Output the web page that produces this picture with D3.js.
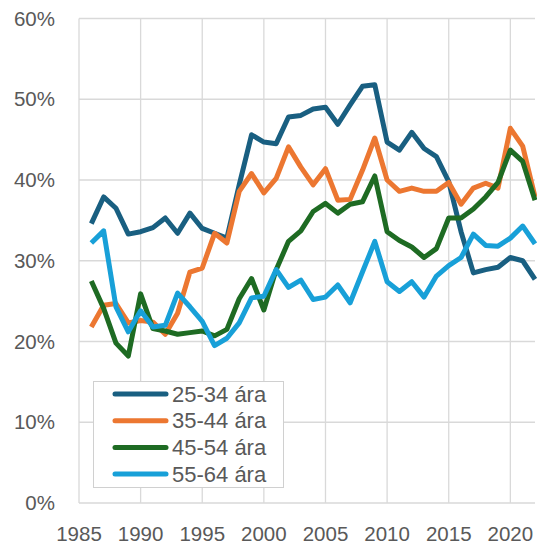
<!DOCTYPE html>
<html>
<head>
<meta charset="utf-8">
<script src="https://cdn.jsdelivr.net/npm/d3@7"></script>
<style>
  body { margin: 0; background: #fff; }
  svg text { font-family: "Liberation Sans", Arial, sans-serif; fill: #595959; }
</style>
</head>
<body>
<svg width="537" height="544"></svg>
<script>
const years = d3.range(1986, 2023);
const seriesNames = ['25-34 ára', '35-44 ára', '45-54 ára', '55-64 ára'];
const colors = ['#195f81', '#ec7731', '#1e6b23', '#18a0d8'];

const age25_34 = [34.6, 37.9, 36.5, 33.3, 33.6, 34.1, 35.3, 33.4, 35.9, 34.0, 33.4, 32.8, 39.4, 45.6, 44.7, 44.5, 47.8, 48.0, 48.8, 49.0, 46.9, 49.3, 51.6, 51.8, 44.7, 43.7, 45.9, 43.9, 42.9, 39.8, 33.6, 28.5, 28.9, 29.2, 30.4, 30.0, 27.7];
const age35_44 = [21.8, 24.5, 24.7, 22.3, 22.6, 22.4, 20.9, 23.5, 28.6, 29.1, 33.4, 32.2, 38.6, 40.8, 38.4, 40.2, 44.1, 41.6, 39.4, 41.4, 37.5, 37.6, 41.2, 45.2, 40.0, 38.6, 39.0, 38.6, 38.6, 39.7, 37.0, 39.0, 39.6, 39.0, 46.4, 44.2, 37.9];
const age45_54 = [27.5, 24.1, 19.8, 18.2, 25.9, 21.6, 21.3, 20.9, 21.1, 21.3, 20.7, 21.5, 25.3, 27.8, 23.9, 28.9, 32.4, 33.7, 36.1, 37.1, 35.9, 37.0, 37.3, 40.5, 33.6, 32.5, 31.7, 30.4, 31.5, 35.3, 35.3, 36.4, 37.9, 39.7, 43.7, 42.3, 37.5];
const age55_64 = [32.2, 33.7, 24.3, 21.2, 23.8, 21.8, 22.0, 26.0, 24.3, 22.5, 19.5, 20.4, 22.3, 25.4, 25.6, 28.9, 26.7, 27.6, 25.2, 25.5, 27.0, 24.8, 28.6, 32.4, 27.4, 26.2, 27.4, 25.5, 28.1, 29.4, 30.4, 33.3, 31.9, 31.8, 32.8, 34.3, 32.1];
const seriesValues = [age25_34, age35_44, age45_54, age55_64];

const xTicks = [1985, 1990, 1995, 2000, 2005, 2010, 2015, 2020];
const yTicks = [0, 10, 20, 30, 40, 50, 60];

const svg = d3.select('svg');
const x = d3.scaleLinear().domain([1985, 2022]).range([79, 535]);
const y = d3.scaleLinear().domain([0, 60]).range([503, 18.5]);

// grid
svg.append('g').selectAll('line').data(yTicks).enter()
  .append('line')
  .attr('x1', 79).attr('x2', 535)
  .attr('y1', d => y(d)).attr('y2', d => y(d))
  .attr('stroke', '#d9d9d9').attr('stroke-width', 1.3);
svg.append('g').selectAll('line').data(xTicks).enter()
  .append('line')
  .attr('x1', d => x(d)).attr('x2', d => x(d))
  .attr('y1', y(0)).attr('y2', y(60))
  .attr('stroke', '#d9d9d9').attr('stroke-width', 1.3);

// tick labels
svg.append('g').selectAll('text').data(yTicks).enter()
  .append('text')
  .attr('x', 55).attr('y', d => y(d) + 7)
  .attr('text-anchor', 'end')
  .attr('font-size', 20.5)
  .text(d => d + '%');
svg.append('g').selectAll('text').data(xTicks).enter()
  .append('text')
  .attr('x', d => x(d)).attr('y', 541)
  .attr('text-anchor', 'middle')
  .attr('font-size', 20.5)
  .text(d => d);

// lines
const line = d3.line().x((d, i) => x(years[i])).y(d => y(d));
seriesValues.forEach((vals, k) => {
  svg.append('path')
    .datum(vals)
    .attr('d', line)
    .attr('fill', 'none')
    .attr('stroke', colors[k])
    .attr('stroke-width', 5)
    .attr('stroke-linejoin', 'round');
});

// legend
const lg = svg.append('g');
lg.append('rect')
  .attr('x', 93.5).attr('y', 381.5).attr('width', 190).attr('height', 106)
  .attr('fill', '#fff').attr('stroke', '#d0d0d0').attr('stroke-width', 1);
seriesNames.forEach((name, k) => {
  const ly = 394 + k * 26.7;
  lg.append('line')
    .attr('x1', 115).attr('x2', 166).attr('y1', ly).attr('y2', ly)
    .attr('stroke', colors[k]).attr('stroke-width', 5).attr('stroke-linecap', 'round');
  lg.append('text')
    .attr('x', 172).attr('y', ly + 7.5)
    .attr('font-size', 22)
    .text(name);
});
</script>
</body>
</html>
